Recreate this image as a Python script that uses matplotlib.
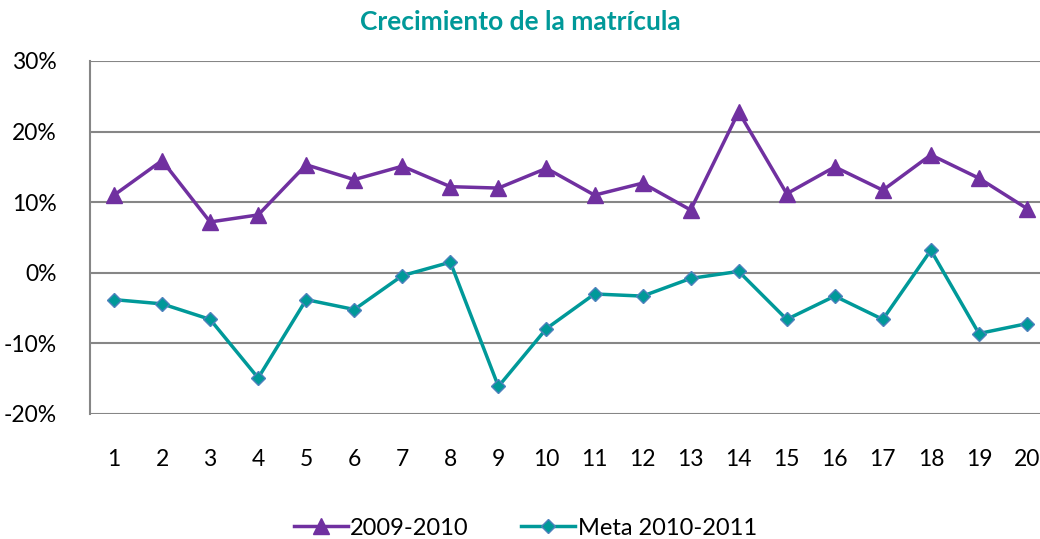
import matplotlib.pyplot as plt
from matplotlib.ticker import PercentFormatter

plt.rcParams['font.family'] = ['Lato', 'DejaVu Sans']
plt.rcParams['axes.unicode_minus'] = False

categorias = [str(i) for i in range(1, 21)]
crec_2009_2010 = [11.0, 15.9, 7.2, 8.2, 15.3, 13.2, 15.1, 12.2, 12.0, 14.8,
                  11.0, 12.7, 8.9, 22.8, 11.2, 15.0, 11.7, 16.7, 13.4, 9.1]
meta_2010_2011 = [-3.8, -4.4, -6.6, -14.9, -3.8, -5.2, -0.4, 1.5, -16.1, -7.9,
                  -3.0, -3.3, -0.8, 0.2, -6.6, -3.3, -6.6, 3.2, -8.6, -7.2]

morado = '#7030A0'
verde = '#009999'

fig = plt.figure(figsize=(10.4, 5.39), dpi=100)
# el eje se sale por la derecha, como en la imagen original
ax = fig.add_axes([90 / 1040, 1 - 414 / 539, (1051 - 90) / 1040, (414 - 61) / 539])

x = range(len(categorias))
ax.plot(x, crec_2009_2010, color=morado, linewidth=2.5, marker='^', markersize=11,
        label='2009-2010', zorder=3)
ax.plot(x, meta_2010_2011, color=verde, linewidth=2.5, marker='D', markersize=7,
        markeredgecolor='#4F81BD', markeredgewidth=1, label='Meta 2010-2011', zorder=3)

ax.set_xlim(-0.5, len(categorias) - 0.5)
ax.set_ylim(-20, 30)
ax.set_yticks([-20, -10, 0, 10, 20, 30])
ax.yaxis.set_major_formatter(PercentFormatter(decimals=0))
ax.set_xticks(list(x))
ax.set_xticklabels(categorias)
ax.tick_params(axis='both', length=0, labelsize=16.5)
ax.tick_params(axis='x', pad=25)
ax.tick_params(axis='y', pad=24)
ax.grid(True, axis='y', color='#868686', linewidth=1.5)
for s in ['top', 'right', 'bottom']:
    ax.spines[s].set_visible(False)
ax.spines['left'].set_color('#868686')
ax.spines['left'].set_linewidth(1.5)

fig.text(0.5, 0.96, 'Crecimiento de la matrícula', ha='center', va='center',
         fontsize=19, fontweight='bold', color=verde)

fig.legend(loc='center', bbox_to_anchor=(0.505, 0.02), ncol=2, frameon=False,
           fontsize=17, handlelength=2.3, columnspacing=2.2, handletextpad=0.1)

fig.savefig('out.png', dpi=100)
